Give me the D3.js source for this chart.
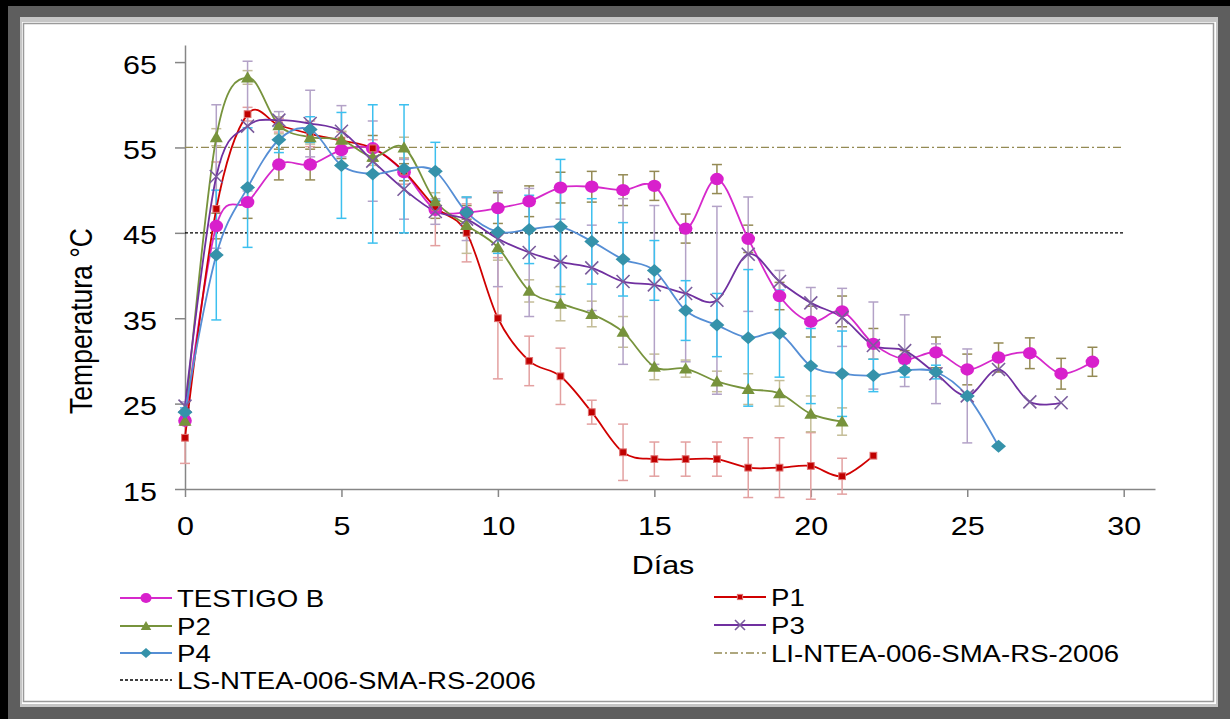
<!DOCTYPE html>
<html>
<head>
<meta charset="utf-8">
<script src="https://cdn.jsdelivr.net/npm/d3@7"></script>
<style>
    body { margin: 0; background: #fff; }
    svg { display: block; font-family: "Liberation Sans", Arial, sans-serif; }
</style>
</head>
<body>
<div id="chart"></div>
<script>
// days on the x axis
const days = d3.range(0, 30);

// mean temperatures per treatment (°C)
const testigoB = [23, 45.8, 48.6, 53, 53, 54.7, 54.9, 52.1, 47.7, 47.4, 47.9, 48.7, 50.3, 50.4, 50, 50.5, 45.5, 51.3, 44.3, 37.6, 34.6, 35.8, 32, 30.2, 31, 29, 30.4, 30.9, 28.5, 29.9];
const p1 = [21, 47.8, 58.9, 57.6, 56.6, 55.8, 54.9, 52.2, 48, 45, 35, 30, 28.2, 24, 19.3, 18.5, 18.5, 18.5, 17.5, 17.5, 17.7, 16.5, 18.9];
const p2 = [23, 56.2, 63.2, 57.6, 56.2, 55.9, 53.9, 55, 48.7, 45.9, 43.3, 38.2, 36.7, 35.5, 33.4, 29.3, 29.1, 27.6, 26.7, 26.2, 23.8, 22.9];
const p3 = [24.7, 51.6, 57.5, 58.2, 57.8, 56.9, 53.4, 50.1, 47.5, 46.6, 44.3, 42.7, 41.6, 40.9, 39.3, 38.9, 37.9, 37.1, 42.5, 39.3, 36.8, 35.1, 31.8, 31.2, 28.5, 25.9, 29, 25.2, 25.1];
const p4 = [24, 42.4, 50.3, 55.9, 57.1, 52.9, 51.9, 52.5, 52.2, 47.4, 45.1, 45.4, 45.7, 44, 41.9, 40.6, 35.9, 34.2, 32.7, 33.2, 29.4, 28.5, 28.3, 28.9, 28.7, 25.9, 20];

// error bar half widths (°C)
const testigoBErr = [0.5, 1.5, 1.9, 1.8, 1.8, 1, 1.5, 1, 1, 0.8, 1.8, 1.8, 1.8, 1.8, 1.8, 1.7, 1.7, 1.7, 1.6, 1.6, 1.8, 1.8, 1.8, 1, 1.8, 1.8, 1.7, 1.8, 1.8, 1.7];
const p1Err = [3, 5.5, 0.8, 0.8, 1.5, 1, 1, 1.5, 4.5, 3.4, 7.1, 2.9, 3.3, 1.4, 3.3, 2, 2, 2, 3.5, 3.5, 3.9, 2.1, 0];
const p2Err = [0.5, 1, 0.8, 1, 0.8, 1, 1, 1.2, 1, 3.3, 1.5, 1.3, 2, 1.5, 1.8, 1.5, 1, 1.2, 1.8, 1.5, 2.1, 1.6];
const p3Err = [0.5, 8.4, 7.6, 1, 3.9, 3, 4.7, 3.5, 1.5, 2.5, 5.6, 7.5, 5, 5, 9.7, 9.3, 8, 11, 6.7, 1.3, 1.8, 3.4, 5.1, 4.2, 3.5, 5.5, 0, 0, 0];
const p4Err = [0.5, 7.6, 7, 1.5, 1.5, 6.2, 8.1, 7.5, 3.4, 1.8, 2.5, 4, 7.9, 5, 4.3, 3.5, 3.5, 3.7, 8, 5.1, 4.4, 5, 1.9, 0.8, 0.8, 0, 0];

// norm limits NTEA-006-SMA-RS-2006
const liLimit = 55;
const lsLimit = 45;
const limitDays = [0, 30];

const seriesNames = ['TESTIGO B', 'P1', 'P2', 'P3', 'P4'];
const xTicks = [0, 5, 10, 15, 20, 25, 30];
const yTicks = [15, 25, 35, 45, 55, 65];

const stretch = 1.15; // text in the picture is a bit wider than tall

function chart() {
    const W = 1230, H = 719;
    const svg = d3.select('#chart').append('svg')
        .attr('width', W)
        .attr('height', H);

    // frame
    svg.append('rect').attr('width', W).attr('height', H).attr('fill', '#000');
    svg.append('rect').attr('x', 8).attr('y', 6).attr('width', W - 8).attr('height', H - 6).attr('fill', '#5e5e5e');
    svg.append('rect').attr('x', 20).attr('y', 17).attr('width', 1198).attr('height', 690).attr('fill', '#c6c6c6');
    svg.append('rect').attr('x', 22).attr('y', 22).attr('width', 1194).attr('height', 682).attr('fill', '#fff');
    svg.append('rect').attr('x', 23.5).attr('y', 23.5).attr('width', 1190).attr('height', 678)
        .attr('fill', 'none').attr('stroke', '#9a9a9a').attr('stroke-width', 1.5);

    const x = d3.scaleLinear().domain([0, 31]).range([185, 1155]);
    const y = d3.scaleLinear().domain([15, 67]).range([489, 45]);

    const series = [
        {name: seriesNames[0], vals: testigoB, err: testigoBErr, line: '#d629cb', mark: '#d820cc', errColor: '#948a54', shape: 'circle'},
        {name: seriesNames[1], vals: p1, err: p1Err, line: '#d00000', mark: '#c00000', errColor: '#e3a0a0', shape: 'square'},
        {name: seriesNames[2], vals: p2, err: p2Err, line: '#77933c', mark: '#77933c', errColor: '#c4bd97', shape: 'triangle'},
        {name: seriesNames[3], vals: p3, err: p3Err, line: '#7030a0', mark: '#7a5c9c', errColor: '#b3a2c7', shape: 'x'},
        {name: seriesNames[4], vals: p4, err: p4Err, line: '#558ed5', mark: '#3592aa', errColor: '#3cc0ef', shape: 'diamond'}
    ];

    // axes
    const yAxis = svg.append('g')
        .attr('transform', 'translate(185,0)')
        .call(d3.axisLeft(y).tickValues(yTicks).tickSize(10).tickSizeOuter(0));
    const xAxis = svg.append('g')
        .attr('transform', 'translate(0,489)')
        .call(d3.axisBottom(x).tickValues(xTicks).tickSize(8).tickSizeOuter(0));

    [yAxis, xAxis].forEach(a => {
        a.select('.domain').attr('stroke', '#868686').attr('stroke-width', 1.5);
        a.selectAll('.tick line').attr('stroke', '#868686').attr('stroke-width', 1.5);
        a.selectAll('.tick text').attr('fill', '#000').attr('font-size', 26.5).attr('x', null).attr('y', null).attr('dy', null);
    });
    yAxis.selectAll('.tick text').attr('text-anchor', 'end').attr('transform', `translate(-28,11) scale(${stretch},1)`);
    xAxis.selectAll('.tick text').attr('text-anchor', 'middle').attr('transform', `translate(0,46) scale(${stretch},1)`);

    svg.append('text')
        .attr('transform', `translate(92,321) scale(${stretch},1) rotate(-90)`)
        .attr('text-anchor', 'middle')
        .attr('font-size', 26.5)
        .text('Temperatura °C');
    svg.append('text')
        .attr('transform', `translate(663,574) scale(${stretch},1)`)
        .attr('text-anchor', 'middle')
        .attr('font-size', 26.5)
        .text('Días');

    // limit lines
    svg.append('line')
        .attr('x1', x(limitDays[0])).attr('x2', x(limitDays[1]))
        .attr('y1', y(liLimit)).attr('y2', y(liLimit))
        .attr('stroke', '#948a54').attr('stroke-width', 1.2).attr('stroke-dasharray', '8,3,2,3');
    svg.append('line')
        .attr('x1', x(limitDays[0])).attr('x2', x(limitDays[1]))
        .attr('y1', y(lsLimit)).attr('y2', y(lsLimit))
        .attr('stroke', '#000').attr('stroke-width', 1.3).attr('stroke-dasharray', '3,2');

    const line = d3.line()
        .x((d, i) => x(days[i]))
        .y(d => y(d))
        .curve(d3.curveCardinal.tension(0));

    // error bars
    series.forEach(s => {
        const g = svg.append('g');
        const eb = g.selectAll('.err')
            .data(s.vals.map((v, i) => ({x: days[i], v: v, e: s.err[i]})).filter(d => d.e > 0))
            .join('g')
            .attr('stroke', s.errColor)
            .attr('stroke-width', 1.5);
        eb.append('line')
            .attr('x1', d => x(d.x)).attr('x2', d => x(d.x))
            .attr('y1', d => y(d.v - d.e)).attr('y2', d => y(d.v + d.e));
        eb.append('line')
            .attr('x1', d => x(d.x) - 5).attr('x2', d => x(d.x) + 5)
            .attr('y1', d => y(d.v + d.e)).attr('y2', d => y(d.v + d.e));
        eb.append('line')
            .attr('x1', d => x(d.x) - 5).attr('x2', d => x(d.x) + 5)
            .attr('y1', d => y(d.v - d.e)).attr('y2', d => y(d.v - d.e));
    });

    // smoothed lines
    series.forEach(s => {
        svg.append('path')
            .datum(s.vals)
            .attr('fill', 'none')
            .attr('stroke', s.line)
            .attr('stroke-width', 1.8)
            .attr('d', line);
    });

    function marker(sel, shape, color, size) {
        if (shape === 'circle') {
            sel.append('ellipse').attr('rx', size * 1.1).attr('ry', size).attr('fill', color);
        } else if (shape === 'square') {
            sel.append('rect').attr('x', -size * 0.65).attr('y', -size * 0.65)
                .attr('width', size * 1.3).attr('height', size * 1.3)
                .attr('fill', color).attr('stroke', '#e07070').attr('stroke-width', 1);
        } else if (shape === 'triangle') {
            sel.append('path').attr('d', `M0,${-size}L${size * 1.05},${size * 0.8}L${-size * 1.05},${size * 0.8}Z`).attr('fill', color);
        } else if (shape === 'diamond') {
            sel.append('path').attr('d', `M0,${-size}L${size * 1.15},0L0,${size}L${-size * 1.15},0Z`).attr('fill', color);
        } else {
            sel.append('path').attr('d', `M${-size},${-size}L${size},${size}M${-size},${size}L${size},${-size}`)
                .attr('stroke', color).attr('stroke-width', 1.6).attr('fill', 'none');
        }
    }

    const sizes = {circle: 6.2, square: 5.2, triangle: 6.2, diamond: 6.5, x: 6.5};
    series.forEach(s => {
        s.vals.forEach((v, i) => {
            const m = svg.append('g').attr('transform', `translate(${x(days[i])},${y(v)})`);
            marker(m, s.shape, s.mark, sizes[s.shape]);
        });
    });

    // legend
    const legendItems = [
        {s: series[0], lx: 120, ly: 598},
        {s: series[1], lx: 714, ly: 597},
        {s: series[2], lx: 120, ly: 626},
        {s: series[3], lx: 714, ly: 625},
        {s: series[4], lx: 120, ly: 653},
        {name: 'LI-NTEA-006-SMA-RS-2006', color: '#948a54', dash: '8,3,2,3', lx: 714, ly: 653},
        {name: 'LS-NTEA-006-SMA-RS-2006', color: '#000', dash: '3,2', lx: 120, ly: 680}
    ];
    const lg = svg.append('g');
    legendItems.forEach(item => {
        const g = lg.append('g').attr('transform', `translate(${item.lx},${item.ly})`);
        const color = item.s ? item.s.line : item.color;
        g.append('line').attr('x1', 0).attr('x2', 52).attr('y1', 0).attr('y2', 0)
            .attr('stroke', color).attr('stroke-width', item.s ? 1.8 : 1.3)
            .attr('stroke-dasharray', item.dash || null);
        if (item.s) {
            const m = g.append('g').attr('transform', 'translate(26,0)');
            marker(m, item.s.shape, item.s.mark, item.s.shape === 'square' ? 4 : 5);
        }
        g.append('text')
            .attr('transform', `translate(57,8.5) scale(${stretch},1)`)
            .attr('font-size', 24)
            .text(item.s ? item.s.name : item.name);
    });
}

function main() {
    chart();
}

main();
</script>
</body>
</html>
